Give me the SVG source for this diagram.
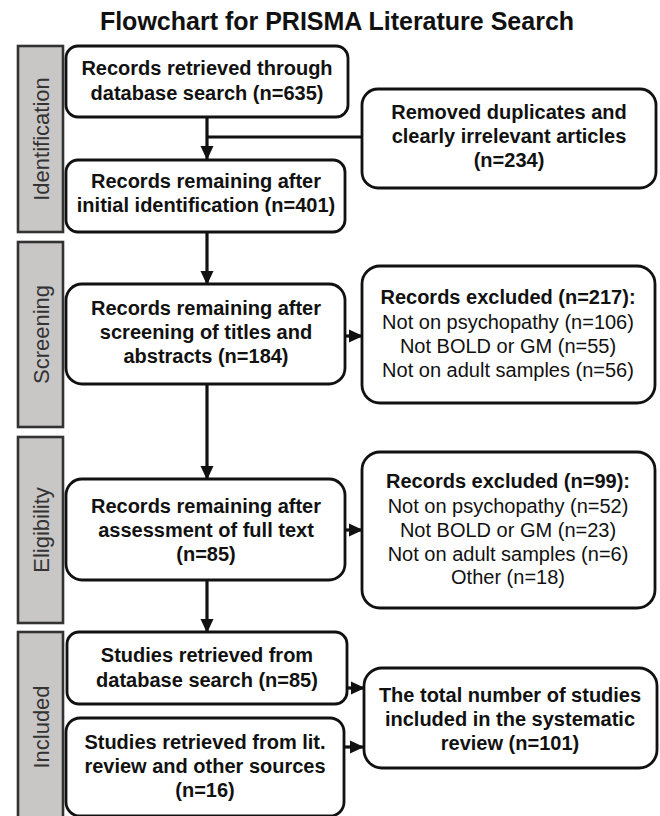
<svg xmlns="http://www.w3.org/2000/svg" width="660" height="816" viewBox="0 0 660 816">
<defs>
<style>
.box{fill:#fff;stroke:#111;stroke-width:2.8}
.side{fill:#c9c6c6;stroke:#333;stroke-width:2.6}
.b{font-family:"Liberation Sans",Arial,sans-serif;font-weight:bold;font-size:20px;fill:#111;text-anchor:middle}
.r{font-family:"Liberation Sans",Arial,sans-serif;font-size:20px;fill:#111;text-anchor:middle}
.sl{font-family:"Liberation Sans",Arial,sans-serif;font-size:22px;fill:#333;text-anchor:middle}
.ln{fill:none;stroke:#111;stroke-width:3.2}
</style>
<marker id="ah" markerUnits="userSpaceOnUse" markerWidth="14" markerHeight="14" refX="13" refY="6.5" orient="auto" viewBox="0 0 14 13">
<path d="M0,0 L14,6.5 L0,13 Z" fill="#111"/>
</marker>
</defs>
<rect width="660" height="816" fill="#fff"/>
<text x="337" y="30" font-family="Liberation Sans, Arial, sans-serif" font-weight="bold" font-size="25" fill="#111" text-anchor="middle">Flowchart for PRISMA Literature Search</text>

<g id="phase-identification"><rect class="side" x="18" y="46" width="45" height="186"/><text class="sl" transform="translate(49,139) rotate(-90)">Identification</text></g>
<g id="phase-screening"><rect class="side" x="18" y="242" width="45" height="185"/><text class="sl" transform="translate(49,334.5) rotate(-90)">Screening</text></g>
<g id="phase-eligibility"><rect class="side" x="18" y="437" width="45" height="186"/><text class="sl" transform="translate(49,530) rotate(-90)">Eligibility</text></g>
<g id="phase-included"><rect class="side" x="18" y="632" width="45" height="200"/><text class="sl" transform="translate(49,727) rotate(-90)">Included</text></g>

<g id="connectors">
<line class="ln" x1="207" y1="117" x2="207" y2="159" marker-end="url(#ah)"/>
<line class="ln" x1="207" y1="137" x2="362" y2="137"/>
<line class="ln" x1="207" y1="232" x2="207" y2="284" marker-end="url(#ah)"/>
<line class="ln" x1="207" y1="384" x2="207" y2="479" marker-end="url(#ah)"/>
<line class="ln" x1="207" y1="580" x2="207" y2="632" marker-end="url(#ah)"/>
<line class="ln" x1="345" y1="336" x2="362" y2="336" marker-end="url(#ah)"/>
<line class="ln" x1="345" y1="530" x2="362" y2="530" marker-end="url(#ah)"/>
<line class="ln" x1="346" y1="688" x2="364" y2="688" marker-end="url(#ah)"/>
<line class="ln" x1="344" y1="747" x2="363" y2="747" marker-end="url(#ah)"/>
</g>

<g id="n-retrieved"><rect class="box" x="66" y="46" width="282" height="71" rx="12"/>
<text class="b" x="207" y="75">Records retrieved through</text><text class="b" x="207" y="100">database search (n=635)</text></g>

<g id="n-removed"><rect class="box" x="362" y="89" width="294" height="99" rx="16"/>
<text class="b" x="509" y="119">Removed duplicates and</text><text class="b" x="509" y="143">clearly irrelevant articles</text><text class="b" x="509" y="167">(n=234)</text></g>

<g id="n-remaining-initial"><rect class="box" x="66" y="160" width="279" height="72" rx="12"/>
<text class="b" x="206" y="188">Records remaining after</text><text class="b" x="206" y="212">initial identification (n=401)</text></g>

<g id="n-remaining-screening"><rect class="box" x="66" y="284" width="279" height="100" rx="16"/>
<text class="b" x="206" y="315">Records remaining after</text><text class="b" x="206" y="339">screening of titles and</text><text class="b" x="206" y="363">abstracts (n=184)</text></g>

<g id="n-excluded-1"><rect class="box" x="362" y="266" width="293" height="137" rx="18"/>
<text class="b" x="508" y="304">Records excluded (n=217):</text>
<text class="r" x="508" y="329">Not on psychopathy (n=106)</text>
<text class="r" x="508" y="353">Not BOLD or GM (n=55)</text>
<text class="r" x="508" y="377">Not on adult samples (n=56)</text></g>

<g id="n-remaining-fulltext"><rect class="box" x="66" y="479" width="279" height="101" rx="16"/>
<text class="b" x="206" y="513">Records remaining after</text><text class="b" x="206" y="537">assessment of full text</text><text class="b" x="206" y="561">(n=85)</text></g>

<g id="n-excluded-2"><rect class="box" x="362" y="452" width="293" height="156" rx="18"/>
<text class="b" x="508" y="488">Records excluded (n=99):</text>
<text class="r" x="508" y="513">Not on psychopathy (n=52)</text>
<text class="r" x="508" y="537">Not BOLD or GM (n=23)</text>
<text class="r" x="508" y="561">Not on adult samples (n=6)</text>
<text class="r" x="508" y="584">Other (n=18)</text></g>

<g id="n-studies-db"><rect class="box" x="67" y="632" width="280" height="72" rx="12"/>
<text class="b" x="207" y="662">Studies retrieved from</text><text class="b" x="207" y="687">database search (n=85)</text></g>

<g id="n-studies-lit"><rect class="box" x="66" y="718" width="278" height="98" rx="14"/>
<text class="b" x="205" y="749">Studies retrieved from lit.</text><text class="b" x="205" y="773">review and other sources</text><text class="b" x="205" y="797">(n=16)</text></g>

<g id="n-total"><rect class="box" x="364" y="668" width="293" height="100" rx="18"/>
<text class="b" x="510" y="702">The total number of studies</text><text class="b" x="510" y="726">included in the systematic</text><text class="b" x="510" y="750">review (n=101)</text></g>
</svg>
